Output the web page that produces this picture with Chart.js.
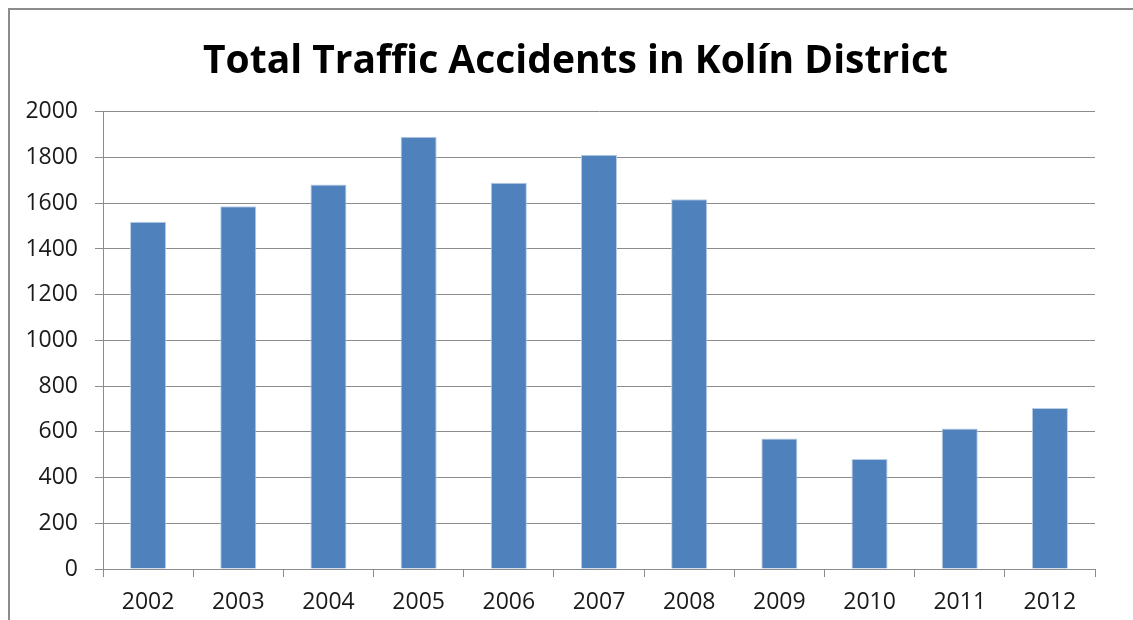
<!DOCTYPE html>
<html>
<head>
<meta charset="utf-8">
<script src="https://cdn.jsdelivr.net/npm/chart.js@4/dist/chart.umd.min.js"></script>
<style>
  html, body { margin: 0; padding: 0; background: #ffffff; }
  #wrap { width: 1133px; height: 620px; position: relative; }
</style>
</head>
<body>
<div id="wrap"><canvas id="c" width="1133" height="620"></canvas></div>
<script>
const titleText = 'Total Traffic Accidents in Kolín District';
const years = ['2002','2003','2004','2005','2006','2007','2008','2009','2010','2011','2012'];
const accidents = [1519, 1587, 1682, 1891, 1690, 1812, 1617, 571, 481, 615, 704];
const yTicks = [0, 200, 400, 600, 800, 1000, 1200, 1400, 1600, 1800, 2000];

const frame = {
  id: 'frame',
  beforeDraw(chart) {
    const ctx = chart.ctx;
    ctx.save();
    ctx.fillStyle = '#ffffff';
    ctx.fillRect(0, 0, chart.width, chart.height);
    ctx.strokeStyle = '#8c8c8c';
    ctx.lineWidth = 2;
    ctx.strokeRect(9, 9, chart.width + 20, chart.height + 20);
    ctx.restore();
  }
};

const tickFont = { family: '"Open Sans", sans-serif', size: 23 };

new Chart(document.getElementById('c'), {
  type: 'bar',
  data: {
    labels: years,
    datasets: [{
      data: accidents,
      backgroundColor: '#4f81bd',
      borderColor: '#b9cde5',
      borderWidth: 1,
      barPercentage: 0.4,
      categoryPercentage: 1.0
    }]
  },
  options: {
    responsive: false,
    animation: false,
    devicePixelRatio: 1,
    layout: { padding: { left: 18, right: 0, top: 0, bottom: 0 } },
    plugins: {
      legend: { display: false },
      tooltip: { enabled: false },
      title: {
        display: true,
        text: titleText,
        color: '#000000',
        font: { family: '"Open Sans", sans-serif', size: 39, weight: 'bold', lineHeight: 1.2 },
        padding: { top: 38, bottom: 27 }
      }
    },
    scales: {
      x: {
        grid: { display: true, drawOnChartArea: false, drawTicks: true, tickLength: 8, color: '#8c8c8c', offset: true },
        border: { display: true, color: '#8c8c8c', width: 1 },
        ticks: { color: '#1a1a1a', font: tickFont, padding: 12, maxRotation: 0 },
        afterFit(scale) { scale.height = 51; }
      },
      y: {
        min: 0, max: 2000,
        afterBuildTicks(scale) { scale.ticks = yTicks.map(v => ({ value: v })); },
        grid: { display: true, drawOnChartArea: true, drawTicks: true, tickLength: 8, color: '#8c8c8c' },
        border: { display: true, color: '#8c8c8c', width: 1 },
        ticks: { color: '#1a1a1a', font: tickFont, padding: 17, callback: v => String(v) },
        afterFit(scale) { scale.width = 85; }
      },
      yRight: {
        position: 'right',
        display: true,
        min: 0, max: 2000,
        grid: { display: false, drawTicks: false },
        border: { display: false },
        ticks: { display: false },
        afterFit(scale) { scale.width = 38; }
      }
    }
  },
  plugins: [frame]
});
</script>
</body>
</html>
